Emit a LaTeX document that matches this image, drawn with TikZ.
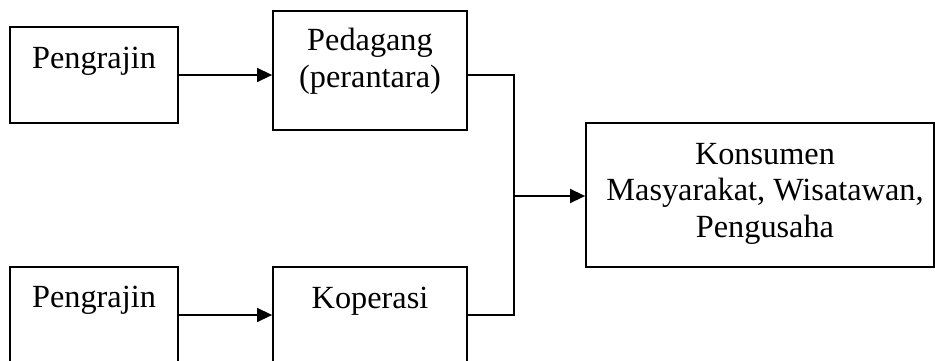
\documentclass[tikz,border=0pt]{standalone}
\usepackage{fontspec}
\setmainfont{Liberation Serif}
\usetikzlibrary{arrows.meta}
\begin{document}
\begin{tikzpicture}[x=1pt,y=1pt,
  box/.style={draw,line width=1.8pt,rectangle,inner sep=0pt},
  label/.style={inner sep=0pt,align=center,anchor=base,
    font=\fontsize{32.3}{36.5}\selectfont},
  flow/.style={line width=1.5pt},
  arr/.style={flow,-{Triangle[length=15pt,width=14pt]}}]
\clip (0,0) rectangle (935,360);
\fill[white] (0,0) rectangle (935,360);

% boxes
\node[box,minimum width=168pt,minimum height=96pt]  (p1) at (94,285) {};
\node[box,minimum width=194pt,minimum height=119pt] (ped) at (370,289.5) {};
\node[box,minimum width=348pt,minimum height=144pt] (kon) at (760,165) {};
\node[box,minimum width=168pt,minimum height=96pt]  (p2) at (94,45) {};
\node[box,minimum width=194pt,minimum height=96pt]  (kop) at (370,45) {};

% texts (multi-line nodes sit on the baseline of their last line)
\node[label] (tp1) at (94,292) {Pengrajin};
\node[label] (tped) at (370,273) {Pedagang\\(perantara)};
\node[label] (tkon) at (765,123) {Konsumen\\Masyarakat, Wisatawan,\\Pengusaha};
\node[label] (tp2) at (94,53) {Pengrajin};
\node[label] (tkop) at (370,52) {Koperasi};

% connectors
\coordinate (j) at (514,164);
\draw[arr] (p1.east) -- (ped.west |- p1.east);
\draw[arr] (p2.east) -- (kop.west |- p2.east);
\draw[flow] (ped.east |- p1.east) -| (j |- p1.east) |- (kop.east |- p2.east);
\draw[arr] (j) -- (kon.west |- j);
\end{tikzpicture}
\end{document}
